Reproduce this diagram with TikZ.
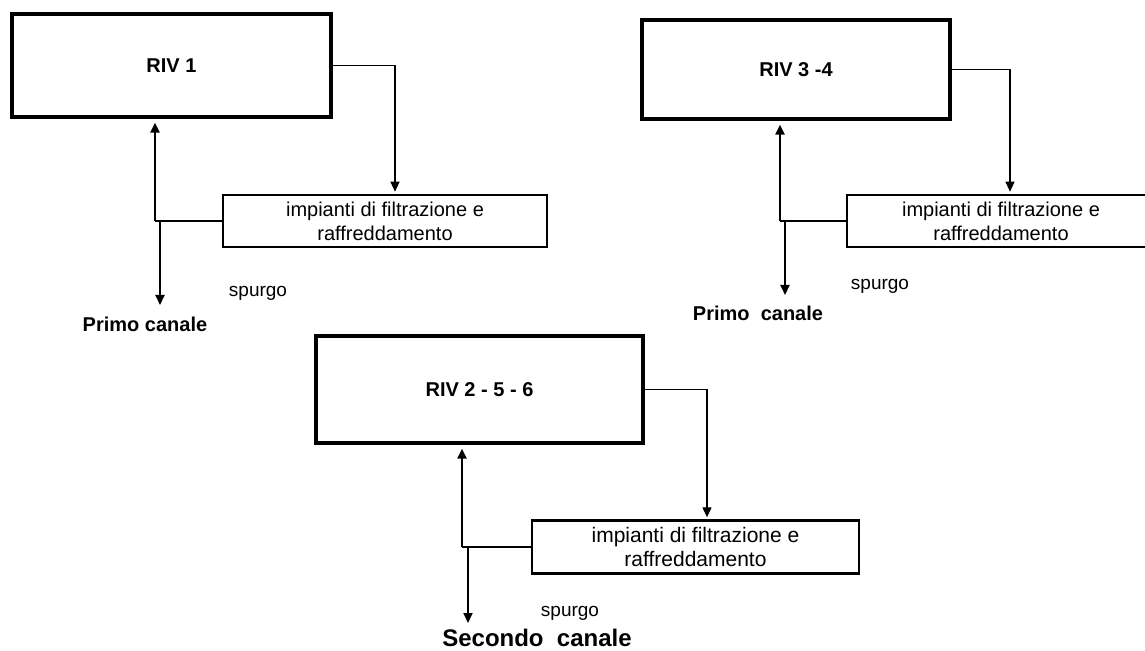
\documentclass[tikz,border=0pt]{standalone}
\usepackage{fontspec}
\setmainfont{Liberation Sans}
\usetikzlibrary{arrows.meta}
\tikzset{
  rivbox/.style={draw,line width=1.6pt,font=\bfseries\fontsize{10}{12}\selectfont},
  filtbox/.style={draw,line width=1.3pt,align=center,font=\fontsize{10}{12}\selectfont},
  lab/.style={font=\fontsize{9.5}{11}\selectfont},
  canale/.style={font=\bfseries\fontsize{#1}{13}\selectfont},
  arr/.style={-{Triangle[length=5pt,width=4.5pt]}},
  feed/.style={line width=0.6pt},
  side/.style={line width=1pt},
}
\begin{document}
\begin{tikzpicture}[x=0.5pt,y=-0.5pt]
  \useasboundingbox (0,0) rectangle (1145,651);
  %
  % RIV 1
  \node[rivbox,minimum width=159.5pt,minimum height=51.5pt] (riv1) at (171.5,65.5) {RIV 1};
  \node[filtbox,minimum width=162pt,minimum height=26pt] (filt1) at (385,221)
       {impianti di filtrazione e\\raffreddamento};
  \node[lab] (sp1) at (258,293) {spurgo};
  \node[canale=10] (can1) at (145,324) {Primo canale};
  \coordinate (j1) at (155,221);
  \coordinate (d1) at (160,221);
  \coordinate (e1) at (160,305);
  \draw[feed,arr,shorten >=1pt] (riv1.east) -| ([xshift=5pt]filt1.north);
  \draw[feed] (filt1.west) -- (j1);
  \draw[side,arr,shorten >=2pt] (j1) -- (j1 |- riv1.south);
  \draw[side,arr] (d1) -- (e1);
  %
  % RIV 3-4
  \node[rivbox,minimum width=154pt,minimum height=49.5pt] (riv34) at (796,69.5) {RIV 3 -4};
  \node[filtbox,minimum width=154pt,minimum height=26pt] (filt2) at (1001,221)
       {impianti di filtrazione e\\raffreddamento};
  \node[lab] (sp2) at (880,286) {spurgo};
  \node[canale=10] (can2) at (758,313) {Primo\ \ canale};
  \coordinate (j2) at (780,221);
  \coordinate (d2) at (785,221);
  \coordinate (e2) at (785,295);
  \draw[feed,arr,shorten >=1pt] (riv34.east) -| ([xshift=4.5pt]filt2.north);
  \draw[feed] (filt2.west) -- (j2);
  \draw[side,arr,shorten >=2pt] (j2) -- (j2 |- riv34.south);
  \draw[side,arr] (d2) -- (e2);
  %
  % RIV 2-5-6
  \node[rivbox,minimum width=163.5pt,minimum height=53.5pt] (riv256) at (479.5,389.5) {RIV 2 - 5 - 6};
  \node[filtbox,minimum width=163.5pt,minimum height=25pt,font=\fontsize{10.5}{12}\selectfont] (filt3) at (695.5,547)
       {impianti di filtrazione e\\raffreddamento};
  \node[lab] (sp3) at (570,613) {spurgo};
  \node[canale=12] (can3) at (537,638) {Secondo\ \ canale};
  \coordinate (j3) at (462,547);
  \coordinate (d3) at (468,547);
  \coordinate (e3) at (468,623);
  \draw[feed,arr,shorten >=1pt] (riv256.east) -| ([xshift=5.75pt]filt3.north);
  \draw[feed] (filt3.west) -- (j3);
  \draw[side,arr,shorten >=2pt] (j3) -- (j3 |- riv256.south);
  \draw[side,arr] (d3) -- (e3);
\end{tikzpicture}
\end{document}
